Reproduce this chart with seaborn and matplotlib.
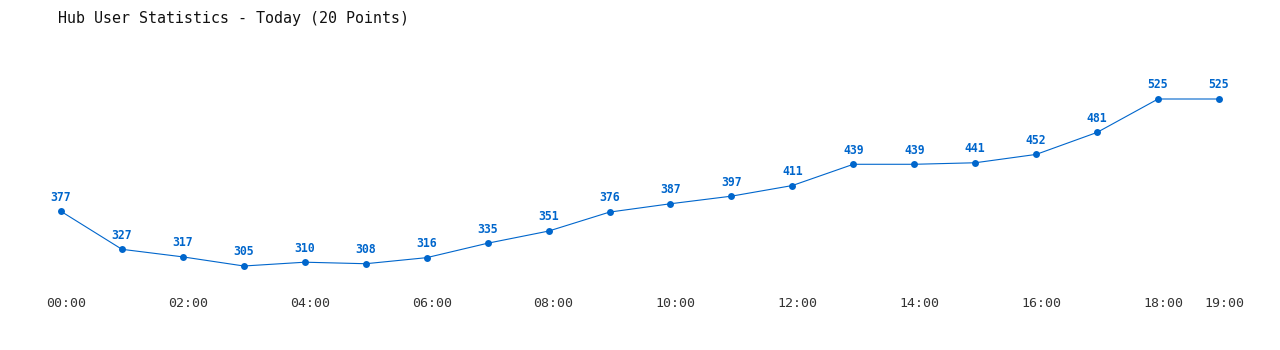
import matplotlib
matplotlib.use("Agg")
import matplotlib.pyplot as plt
import matplotlib.transforms as mtransforms
import seaborn as sns
import pandas as pd

title = "Hub User Statistics - Today (20 Points)"
hours = list(range(20))
users = [377, 327, 317, 305, 310, 308, 316, 335, 351, 376,
         387, 397, 411, 439, 439, 441, 452, 481, 525, 525]
tick_positions = [0, 2, 4, 6, 8, 10, 12, 14, 16, 18, 19]
tick_labels = ["00:00", "02:00", "04:00", "06:00", "08:00", "10:00",
               "12:00", "14:00", "16:00", "18:00", "19:00"]

sns.set_style("white")
plt.rcParams['font.family'] = ['DejaVu Sans Mono', 'DejaVu Sans']

color = "#0066cc"
df = pd.DataFrame({"hour": hours, "users": users})

fig = plt.figure(figsize=(12.8, 3.5), dpi=100)
ax = fig.add_axes([61/1280, (350-266)/350, (1219-61)/1280, (266-99)/350])
sns.lineplot(data=df, x="hour", y="users", ax=ax, color=color, linewidth=0.8,
             marker="o", markersize=5, markeredgewidth=0, clip_on=False)
ax.set_xlim(0, 19)
ax.set_ylim(305, 525)
for x, y in zip(hours, users):
    ax.annotate(str(y), (x, y), xytext=(0, 5.5), textcoords="offset points",
                ha="center", va="bottom", fontsize=8.3, fontweight="bold",
                color=color)
ax.set_xticks(tick_positions)
ax.set_xticklabels(tick_labels, fontsize=9.5, color="#333333")
ax.tick_params(axis="x", length=0, pad=22)
shift = mtransforms.ScaledTranslation(5/100, 0, fig.dpi_scale_trans)
for lbl in ax.get_xticklabels():
    lbl.set_transform(lbl.get_transform() + shift)
ax.set_yticks([])
ax.set_xlabel("")
ax.set_ylabel("")
for s in ax.spines.values():
    s.set_visible(False)
fig.text(234/1280, 1 - 18.3/350, title, ha="center", va="center",
         fontsize=10.8, color="#111111")
fig.savefig("out.png", dpi=100, facecolor="white")
